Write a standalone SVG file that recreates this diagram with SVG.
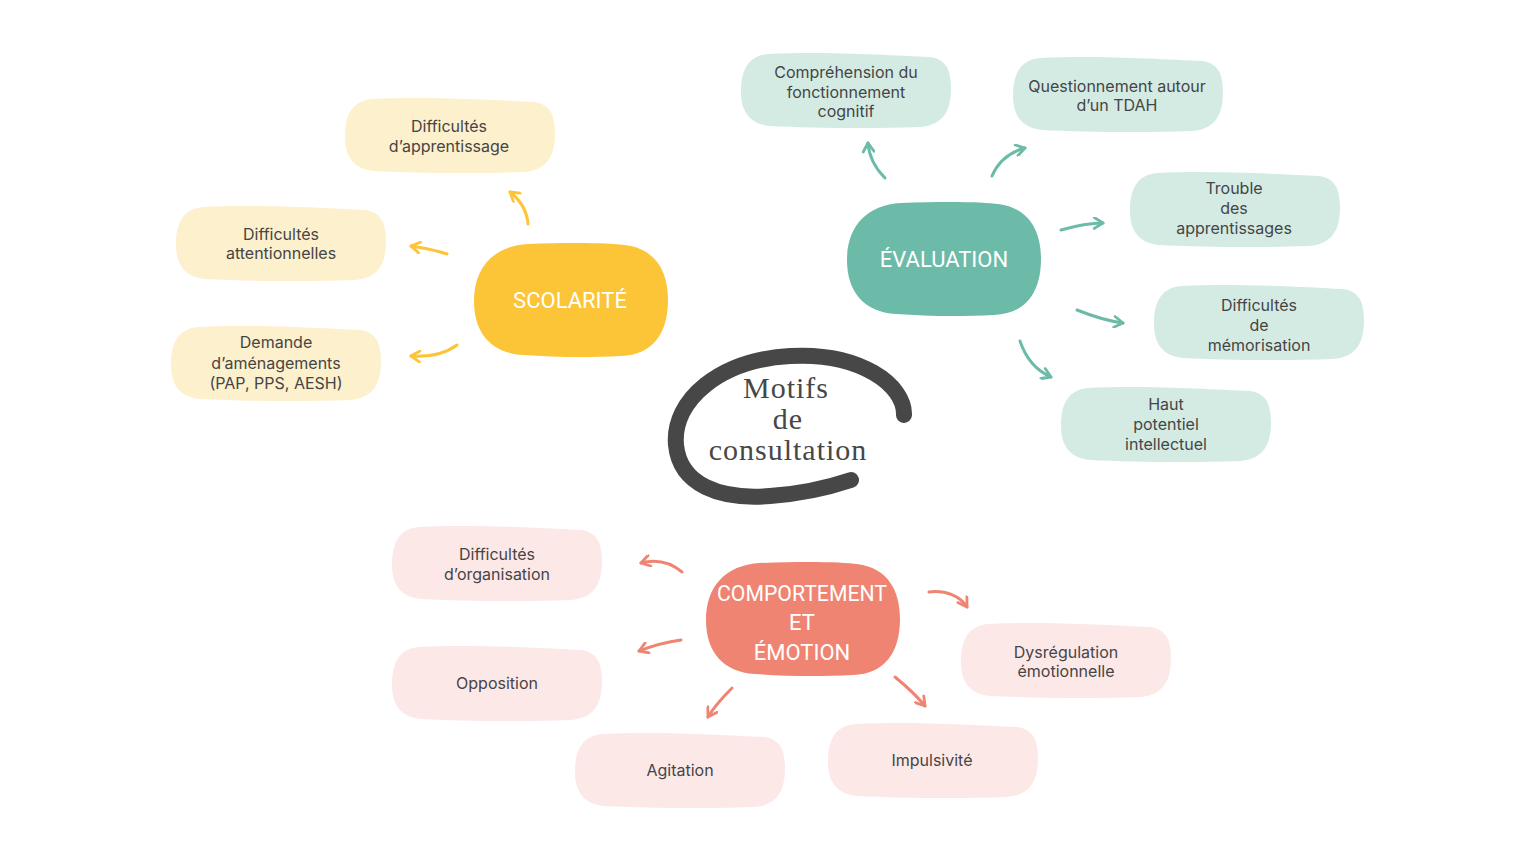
<svg xmlns="http://www.w3.org/2000/svg" xmlns:xlink="http://www.w3.org/1999/xlink" width="1536" height="864" viewBox="0 0 1536 864">
<style>
.leaf{font-family:Inter,"Noto Sans",sans-serif;font-size:16px;fill:#454545;text-anchor:middle}
.hub{font-family:Roboto,"Noto Sans",sans-serif;font-size:22px;fill:#ffffff;text-anchor:middle}
.title{font-family:"Liberation Serif",serif;font-size:30px;letter-spacing:1px;fill:#474747;text-anchor:middle}
.ay{fill:none;stroke:#FCC537;stroke-width:3;stroke-linecap:round;marker-end:url(#my)}
.at{fill:none;stroke:#6CBAA8;stroke-width:3;stroke-linecap:round;marker-end:url(#mt)}
.ac{fill:none;stroke:#F08472;stroke-width:3;stroke-linecap:round;marker-end:url(#mc)}
</style>
<defs>
<path id="leafShape" d="M28,2 C80,-1 150,3 190,5 C206,7 211,18 211,36 C211,58 204,73 180,75 C130,77 70,76 30,74 C10,72 1,60 1,40 C1,18 8,4 28,2 Z"/>
<path id="hubShape" d="M55,1 C100,-1 140,0 152,2 C184,6 195,30 195,57 C195,90 180,112 148,113 C110,115 80,114 50,112 C18,110 1,90 1,58 C1,25 20,3 55,1 Z"/>
<marker id="my" viewBox="0 0 12 12" refX="10" refY="6" markerWidth="13" markerHeight="13" markerUnits="userSpaceOnUse" orient="auto"><path d="M2,1 L10,6 L2,11" fill="none" stroke="#FCC537" stroke-width="2.6" stroke-linecap="round" stroke-linejoin="round"/></marker>
<marker id="mt" viewBox="0 0 12 12" refX="10" refY="6" markerWidth="13" markerHeight="13" markerUnits="userSpaceOnUse" orient="auto"><path d="M2,1 L10,6 L2,11" fill="none" stroke="#6CBAA8" stroke-width="2.6" stroke-linecap="round" stroke-linejoin="round"/></marker>
<marker id="mc" viewBox="0 0 12 12" refX="10" refY="6" markerWidth="13" markerHeight="13" markerUnits="userSpaceOnUse" orient="auto"><path d="M2,1 L10,6 L2,11" fill="none" stroke="#F08472" stroke-width="2.6" stroke-linecap="round" stroke-linejoin="round"/></marker>
</defs>
<rect width="1536" height="864" fill="#ffffff"/>

<g id="center">
<path d="M904,415 C905,385 860,352 790,356 C720,360 672,400 676,445 C680,485 720,500 770,496 C800,494 830,487 851,480" fill="none" stroke="#474747" stroke-width="16" stroke-linecap="round"/>
<text class="title" x="786" y="398">Motifs</text>
<text class="title" x="788" y="429">de</text>
<text class="title" x="788" y="460">consultation</text>
</g>

<g id="connectors">
<path class="ay" d="M528,224 C527,210 520,200 510,192"/>
<path class="ay" d="M447,254 C435,250 422,248 411,246"/>
<path class="ay" d="M457,345 C445,354 428,357 411,356"/>
<path class="at" d="M885,178 C875,168 869,157 868,143"/>
<path class="at" d="M992,176 C998,162 1010,152 1025,148"/>
<path class="at" d="M1061,230 C1075,226 1089,223 1103,223"/>
<path class="at" d="M1077,310 C1092,316 1108,321 1123,323"/>
<path class="at" d="M1020,341 C1025,356 1035,370 1051,377"/>
<path class="ac" d="M682,572 C670,562 656,559 641,563"/>
<path class="ac" d="M681,640 C666,642 652,646 639,651"/>
<path class="ac" d="M732,688 C723,697 714,707 708,717"/>
<path class="ac" d="M895,677 C906,686 917,696 925,706"/>
<path class="ac" d="M929,592 C946,590 960,596 967,607"/>
</g>

<g id="scolarite"><use xlink:href="#hubShape" x="473" y="243" fill="#FCC537"/><text class="hub" x="570" y="308">SCOLARITÉ</text></g>
<g id="diff-apprentissage"><use xlink:href="#leafShape" x="344" y="97" fill="#FDF0CC"/><text class="leaf" x="449" y="132">Difficultés</text><text class="leaf" x="449" y="152">d’apprentissage</text></g>
<g id="diff-attention"><use xlink:href="#leafShape" x="175" y="205" fill="#FDF0CC"/><text class="leaf" x="281" y="240">Difficultés</text><text class="leaf" x="281" y="259">attentionnelles</text></g>
<g id="demande"><use xlink:href="#leafShape" x="170" y="325" fill="#FDF0CC"/><text class="leaf" x="276" y="348">Demande</text><text class="leaf" x="276" y="369">d’aménagements</text><text class="leaf" x="276" y="389">(PAP, PPS, AESH)</text></g>

<g id="evaluation"><use xlink:href="#hubShape" x="846" y="202" fill="#6CBAA8"/><text class="hub" x="944" y="267">ÉVALUATION</text></g>
<g id="comprehension"><use xlink:href="#leafShape" x="740" y="52" fill="#D4EBE4"/><text class="leaf" x="846" y="78">Compréhension du</text><text class="leaf" x="846" y="98">fonctionnement</text><text class="leaf" x="846" y="117">cognitif</text></g>
<g id="tdah"><use xlink:href="#leafShape" x="1012" y="56" fill="#D4EBE4"/><text class="leaf" x="1117" y="92">Questionnement autour</text><text class="leaf" x="1117" y="111">d’un TDAH</text></g>
<g id="trouble"><use xlink:href="#leafShape" x="1129" y="171" fill="#D4EBE4"/><text class="leaf" x="1234" y="194">Trouble</text><text class="leaf" x="1234" y="214">des</text><text class="leaf" x="1234" y="234">apprentissages</text></g>
<g id="memorisation"><use xlink:href="#leafShape" x="1153" y="284" fill="#D4EBE4"/><text class="leaf" x="1259" y="311">Difficultés</text><text class="leaf" x="1259" y="331">de</text><text class="leaf" x="1259" y="351">mémorisation</text></g>
<g id="hpi"><use xlink:href="#leafShape" x="1060" y="386" fill="#D4EBE4"/><text class="leaf" x="1166" y="410">Haut</text><text class="leaf" x="1166" y="430">potentiel</text><text class="leaf" x="1166" y="450">intellectuel</text></g>

<g id="comportement"><use xlink:href="#hubShape" x="705" y="562" fill="#F08472"/><text class="hub" x="802" y="601" textLength="170" lengthAdjust="spacingAndGlyphs">COMPORTEMENT</text><text class="hub" x="802" y="630">ET</text><text class="hub" x="802" y="660">ÉMOTION</text></g>
<g id="organisation"><use xlink:href="#leafShape" x="391" y="525" fill="#FDE8E8"/><text class="leaf" x="497" y="560">Difficultés</text><text class="leaf" x="497" y="580">d’organisation</text></g>
<g id="opposition"><use xlink:href="#leafShape" x="391" y="645" fill="#FDE8E8"/><text class="leaf" x="497" y="689">Opposition</text></g>
<g id="agitation"><use xlink:href="#leafShape" x="574" y="732" fill="#FDE8E8"/><text class="leaf" x="680" y="776">Agitation</text></g>
<g id="impulsivite"><use xlink:href="#leafShape" x="827" y="722" fill="#FDE8E8"/><text class="leaf" x="932" y="766">Impulsivité</text></g>
<g id="dysregulation"><use xlink:href="#leafShape" x="960" y="622" fill="#FDE8E8"/><text class="leaf" x="1066" y="658">Dysrégulation</text><text class="leaf" x="1066" y="677">émotionnelle</text></g>
</svg>
